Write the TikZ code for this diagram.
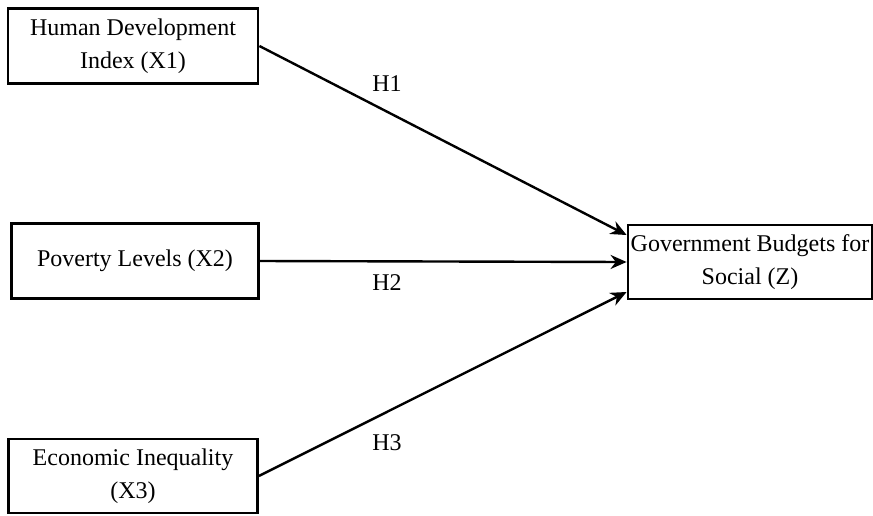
\documentclass[tikz,border=0pt]{standalone}
\usepackage{fontspec}
\setmainfont{Liberation Serif}
\usetikzlibrary{arrows.meta}

\begin{document}
\begin{tikzpicture}[x=0.5pt,y=-0.5pt,
  varbox/.style={draw,line width=1.4pt,inner sep=0pt,align=center,
    font=\fontsize{12}{16.5}\selectfont},
  hyp/.style={font=\fontsize{12}{14}\selectfont},
  path/.style={line width=1.2pt,-{Stealth[length=8pt,width=7pt]}}]
\useasboundingbox (0,0) rectangle (873,515);
% Variaveis
\node[varbox,minimum width=125pt,minimum height=37.5pt] (x1) at (133,46) {Human Development\\Index (X1)};
\node[varbox,minimum width=123.5pt,minimum height=37.5pt] (x2) at (135,261) {Poverty Levels (X2)};
\node[varbox,minimum width=124.5pt,minimum height=37pt] (x3) at (133,476) {Economic Inequality\\(X3)};
\node[varbox,minimum width=122pt,minimum height=37pt] (z) at (750,262) {Government Budgets for\\Social (Z)};
% Hipoteses
\draw[path] (x1.east) -- ([yshift=13.5pt]z.west);
\draw[path] (x2.east) -- (z.west);
\draw[path] (x3.east) -- ([yshift=-15pt]z.west);
\node[hyp] (h1) at (387,84) {H1};
\node[hyp] (h2) at (387,283) {H2};
\node[hyp] (h3) at (387,443) {H3};
\end{tikzpicture}
\end{document}
